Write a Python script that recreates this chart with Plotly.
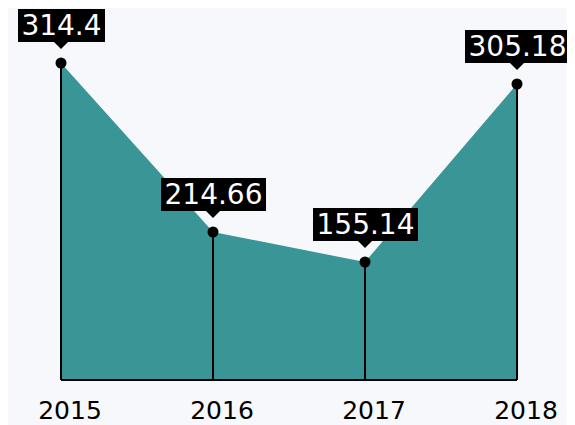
import plotly.graph_objects as go

years = ["2015", "2016", "2017", "2018"]
# heights as drawn in the picture (the labels don't share the same scale)
heights = [317, 148, 118, 296]
labels = ["314.4", "214.66", "155.14", "305.18"]

teal = "#3a9597"
bg = "#f7f8fc"
font = "DejaVu Sans"
label_size = 28

xs = list(range(len(years)))


def box_width(s):
    # rough DejaVu Sans advance widths + a few px of padding
    em = sum(0.318 if c == "." else 0.636 for c in s)
    return round(em * label_size) + 7


fig = go.Figure()

# filled area
fig.add_trace(go.Scatter(
    x=xs, y=heights, mode="lines", fill="tozeroy",
    fillcolor=teal, line=dict(width=0, color=teal),
    hoverinfo="skip", showlegend=False
))

# drop lines from each point to the baseline
drop_x, drop_y = [], []
for x, h in zip(xs, heights):
    drop_x += [x, x, None]
    drop_y += [0, h, None]
fig.add_trace(go.Scatter(
    x=drop_x, y=drop_y, mode="lines",
    line=dict(color="black", width=2),
    hoverinfo="skip", showlegend=False
))

# baseline
fig.add_trace(go.Scatter(
    x=[xs[0], xs[-1]], y=[0, 0], mode="lines",
    line=dict(color="black", width=2),
    hoverinfo="skip", showlegend=False
))

# points
fig.add_trace(go.Scatter(
    x=xs, y=heights, mode="markers",
    marker=dict(color="black", size=11),
    showlegend=False
))

# value labels with a small pointer
for x, h, lab in zip(xs, heights, labels):
    fig.add_annotation(
        x=x, y=h, text=lab, showarrow=False,
        xanchor="center", yanchor="bottom", yshift=21,
        width=box_width(lab), align="center",
        bgcolor="black", borderpad=0, borderwidth=0,
        font=dict(family=font, size=label_size, color="white")
    )
    fig.add_shape(
        type="path", xref="x", yref="y",
        xsizemode="pixel", ysizemode="pixel",
        xanchor=x, yanchor=h,
        path="M -8,22 L 8,22 L 0,14 Z",
        fillcolor="black", line=dict(width=0)
    )

fig.update_layout(
    width=575, height=425,
    margin=dict(l=0, r=0, t=0, b=48),
    paper_bgcolor=bg, plot_bgcolor=bg,
    font=dict(family=font, color="black"),
    xaxis=dict(
        range=[-0.3487, 3.434], tickvals=xs, ticktext=years,
        showgrid=False, zeroline=False, showline=False,
        tickfont=dict(size=25), ticklabelshift=9, ticklabelstandoff=8
    ),
    yaxis=dict(
        range=[-5, 372], visible=False,
        showgrid=False, zeroline=False
    )
)

fig.write_html("out.html")
